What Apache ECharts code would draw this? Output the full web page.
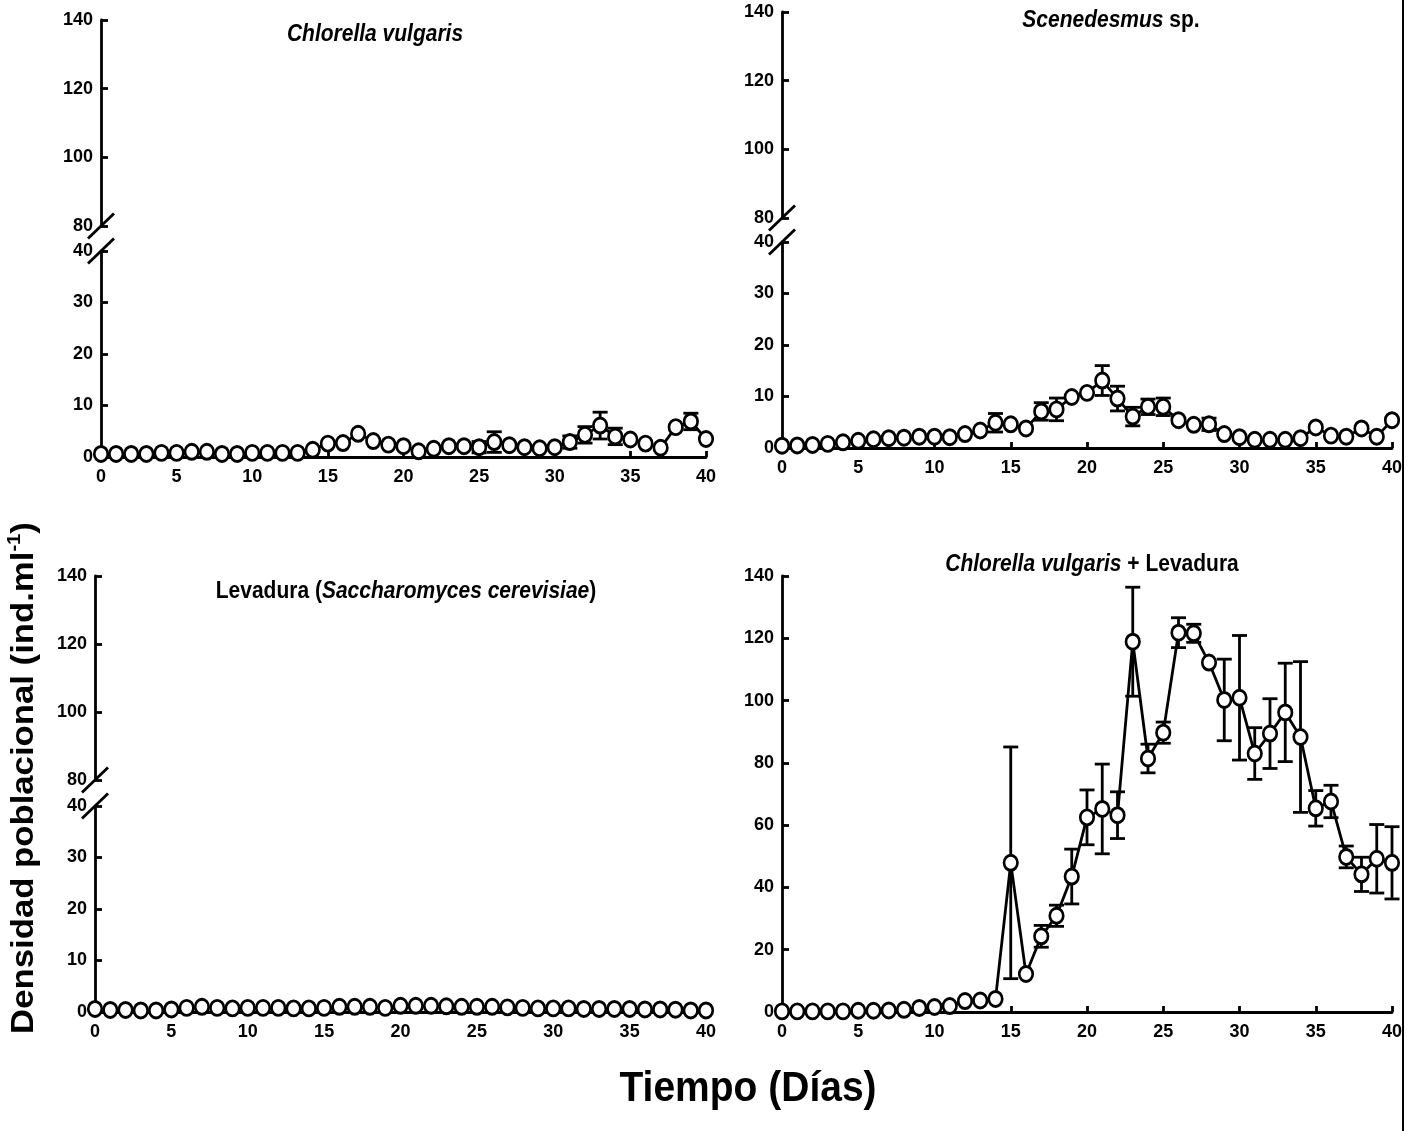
<!DOCTYPE html>
<html>
<head>
<meta charset="utf-8">
<script src="https://cdn.jsdelivr.net/npm/echarts@6/dist/echarts.min.js"></script>
<style>html,body{margin:0;padding:0;background:#fff}#chart{width:1418px;height:1131px}</style>
</head>
<body>
<div id="chart"></div>
<script>
// dias de cultivo
var days = [0,1,2,3,4,5,6,7,8,9,10,11,12,13,14,15,16,17,18,19,20,21,22,23,24,25,26,27,28,29,30,31,32,33,34,35,36,37,38,39,40];

// Chlorella vulgaris
var chlorella = [0.6,0.6,0.6,0.6,0.8,0.8,1.0,1.0,0.6,0.6,0.8,0.8,0.8,0.8,1.4,2.6,2.7,4.5,3.1,2.4,2.1,1.1,1.6,2.1,2.1,1.9,2.9,2.3,1.9,1.7,1.9,2.9,4.3,6.1,4.0,3.4,2.6,1.8,5.8,6.9,3.5];
var chlorellaErr = [0,0,0,0,0,0,0,0,0,0, 0,0,0,0,0,0,0,0,0,0, 0,0,0,0,0,1.1,2.0,0,0,0, 0,1.2,1.6,2.6,1.6,0,0,0,0,1.6,0];

// Scenedesmus sp.
var scenedesmus = [0.45,0.5,0.6,0.8,1.1,1.4,1.7,1.9,2.0,2.2,2.2,2.1,2.7,3.4,4.9,4.6,3.8,7.1,7.5,9.9,10.7,13.1,9.6,6.1,8.0,8.0,5.4,4.5,4.6,2.7,2.1,1.6,1.6,1.6,1.9,4.0,2.4,2.2,3.8,2.2,5.4];
var scenedesmusErr = [0,0,0,0,0,0,0,0,0,0, 0,0,0,0,1.8,0,0,1.7,2.2,0, 0,2.9,2.4,1.8,1.5,1.7,0,0,1.2,0, 0,0,0,0,0,0,0,0,0,0,0];

// Levadura
var levadura = [0.6,0.4,0.4,0.3,0.3,0.5,0.8,1.0,0.8,0.7, 0.8,0.8,0.8,0.7,0.7,0.8,1.0,1.0,1.0,0.8, 1.2,1.2,1.2,1.1,1.0,1.0,1.0,0.9,0.8,0.7, 0.7,0.7,0.6,0.6,0.6,0.6,0.5,0.5,0.45,0.3,0.3];
var levaduraErr = [0,0,0,0,0,0,0,0,0,0, 0,0,0,0,0,0,0,0,0,0, 0,0,0,0,0,0,0,0,0,0, 0,0,0,0,0,0,0,0,0,0,0];

// Chlorella vulgaris + Levadura
var mezcla = [0.2,0.2,0.2,0.2,0.2,0.4,0.4,0.5,0.7,1.3,1.6,1.9,3.5,3.7,4.2,47.9,12.2,24.3,30.9,43.5,62.5,65.2,63.2,118.9,81.4,89.7,121.8,121.6,112.2,100.2,100.9,83.0,89.4,96.2,88.3,65.4,67.6,49.8,44.2,49.2,47.9];
var mezclaErr = [0,0,0,0,0,0,0,0,0,0, 0,0,0,0,0,37.2,0,3.5,3.4,8.8, 8.8,14.4,7.5,17.5,4.6,3.4,4.8,2.9,0,13.1, 20,8.3,11.2,15.8,24.2,5.7,5.2,3.5,5.5,11,11.6];

var FONT = '"Liberation Sans", Arial, sans-serif';

var chart = echarts.init(document.getElementById('chart'));

// paneles: los tres primeros con eje y cortado (0-40 / 80-140)
var panels = [
    {vals: chlorella, errs: chlorellaErr, left: 101, right: 712, lower: [251, 206], upper: [20, 206]},
    {vals: scenedesmus, errs: scenedesmusErr, left: 782, right: 26, lower: [242, 206], upper: [12, 206]},
    {vals: levadura, errs: levaduraErr, left: 95, right: 712, lower: [806, 206], upper: [576, 204]},
    {vals: mezcla, errs: mezclaErr, left: 782, right: 26, full: [576, 436]}
];

var black = '#000';
var LW = 2.8;
var grids = [], xAxes = [], yAxes = [], series = [];
var breaks = [];

function xAxis(gi, show) {
    return {
        type: 'value', gridIndex: gi, min: 0, max: 40, interval: 5, show: show,
        axisLine: {onZero: false, lineStyle: {color: black, width: LW}},
        axisTick: {inside: true, length: 6, lineStyle: {color: black, width: LW}},
        axisLabel: {color: black, fontWeight: 'bold', fontSize: 18, fontFamily: FONT, margin: 11},
        splitLine: {show: false}
    };
}
function yAxis(gi, min, max, step) {
    return {
        type: 'value', gridIndex: gi, min: min, max: max, interval: step,
        axisLine: {show: true, lineStyle: {color: black, width: LW}},
        axisTick: {show: true, inside: true, length: 7, lineStyle: {color: black, width: LW}},
        axisLabel: {color: black, fontWeight: 'bold', fontSize: 18, fontFamily: FONT, margin: 8},
        splitLine: {show: false}
    };
}

function renderErr(params, api) {
    var x = api.value(0);
    var lo = api.coord([x, api.value(1)]);
    var hi = api.coord([x, api.value(2)]);
    var w = 7.5;
    var st = {stroke: black, lineWidth: LW};
    return {
        type: 'group',
        children: [
            {type: 'line', shape: {x1: lo[0], y1: lo[1], x2: hi[0], y2: hi[1]}, style: st},
            {type: 'line', shape: {x1: hi[0] - w, y1: hi[1], x2: hi[0] + w, y2: hi[1]}, style: st},
            {type: 'line', shape: {x1: lo[0] - w, y1: lo[1], x2: lo[0] + w, y2: lo[1]}, style: st}
        ]
    };
}

panels.forEach(function (p) {
    var gi;
    if (p.full) {
        gi = grids.length;
        grids.push({left: p.left, right: p.right, top: p.full[0], height: p.full[1]});
        xAxes.push(xAxis(gi, true));
        yAxes.push(yAxis(gi, 0, 140, 20));
    } else {
        var up = grids.length;
        grids.push({left: p.left, right: p.right, top: p.upper[0], height: p.upper[1]});
        xAxes.push(xAxis(up, false));
        yAxes.push(yAxis(up, 80, 140, 20));
        gi = grids.length;
        grids.push({left: p.left, right: p.right, top: p.lower[0], height: p.lower[1]});
        xAxes.push(xAxis(gi, true));
        yAxes.push(yAxis(gi, 0, 40, 10));
        breaks.push([up, gi]);
    }
    var errData = [];
    days.forEach(function (d, i) {
        if (p.errs[i] > 0) errData.push([d, p.vals[i] - p.errs[i], p.vals[i] + p.errs[i]]);
    });
    series.push({
        type: 'custom', xAxisIndex: gi, yAxisIndex: gi, renderItem: renderErr,
        data: errData, encode: {x: 0, y: [1, 2]}, z: 2, silent: true, clip: false
    });
    series.push({
        type: 'line', xAxisIndex: gi, yAxisIndex: gi, z: 3,
        data: days.map(function (d, i) { return [d, p.vals[i]]; }),
        symbol: 'circle', symbolSize: [13.5, 15], showAllSymbol: true,
        itemStyle: {color: '#fff', borderColor: black, borderWidth: LW},
        lineStyle: {color: black, width: LW}
    });
});

var titleRich = {
    i: {fontStyle: 'italic', fontWeight: 'bold', fontSize: 21, fontFamily: FONT, fill: black},
    n: {fontWeight: 'bold', fontSize: 21, fontFamily: FONT, fill: black}
};
function label(x, y, text) {
    return {type: 'text', x: x, y: y, scaleY: 1.1,
        style: {text: text, rich: titleRich, align: 'center', verticalAlign: 'middle', fontSize: 21, fontWeight: 'bold', fontFamily: FONT, fill: black}};
}

var graphics = [
    label(375, 35, '{i|Chlorella vulgaris}'),
    label(1111, 21, '{i|Scenedesmus}{n| sp.}'),
    label(406, 592, '{n|Levadura (}{i|Saccharomyces cerevisiae}{n|)}'),
    label(1092, 565, '{i|Chlorella vulgaris}{n| + Levadura}'),
    {type: 'text', x: 748, y: 1089, scaleY: 1.08,
        style: {text: 'Tiempo (Días)', align: 'center', verticalAlign: 'middle', fontSize: 39, fontWeight: 'bold', fontFamily: FONT, fill: black}},
    {type: 'text', x: 24, y: 778, rotation: Math.PI / 2, scaleX: 1.12,
        style: {text: '{n|Densidad poblacional (ind.ml}{s|-1}{n|)}', align: 'center', verticalAlign: 'middle',
            rich: {n: {fontSize: 31, fontWeight: 'bold', fontFamily: FONT, fill: black, lineHeight: 36},
                   s: {fontSize: 18, fontWeight: 'bold', fontFamily: FONT, fill: black, verticalAlign: 'top', lineHeight: 36}}}},
    {type: 'line', shape: {x1: 1403, y1: 0, x2: 1403, y2: 1131}, style: {stroke: black, lineWidth: 2}}
];

chart.setOption({
    backgroundColor: '#fff',
    animation: false,
    grid: grids,
    xAxis: xAxes,
    yAxis: yAxes,
    series: series,
    graphic: graphics
});

// marcas de corte del eje y
breaks.forEach(function (b) {
    var pUp = chart.convertToPixel({gridIndex: b[0]}, [0, 80]);
    var pLo = chart.convertToPixel({gridIndex: b[1]}, [0, 40]);
    [pUp, pLo].forEach(function (pt) {
        graphics.push({type: 'line', shape: {x1: pt[0] - 13, y1: pt[1] + 12.5, x2: pt[0] + 13, y2: pt[1] - 12.5},
            style: {stroke: black, lineWidth: LW}});
    });
});
chart.setOption({graphic: graphics});
</script>
</body>
</html>
